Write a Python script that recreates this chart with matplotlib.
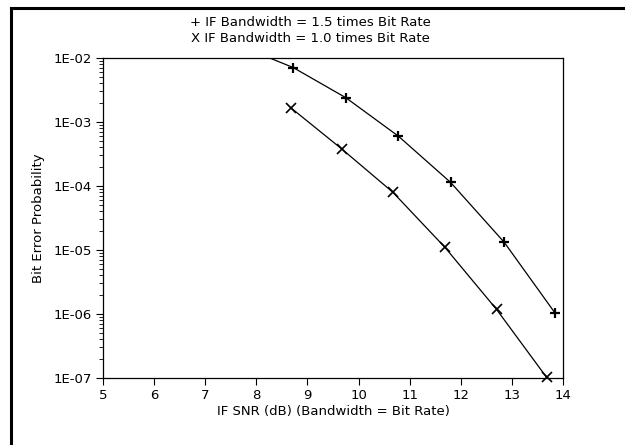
import matplotlib
matplotlib.use("Agg")
import matplotlib.pyplot as plt
from matplotlib.lines import Line2D
from matplotlib.ticker import LogLocator, FixedLocator

# IF bandwidth = 1.5 x bit rate (plus markers); first point lies above the plot
snr_15 = [7.72, 8.72, 9.75, 10.78, 11.80, 12.85, 13.85]
ber_15 = [1.5e-2, 7.1e-3, 2.4e-3, 6.0e-4, 1.14e-4, 1.32e-5, 1.02e-6]

# IF bandwidth = 1.0 x bit rate (x markers)
snr_10 = [8.67, 9.67, 10.67, 11.69, 12.70, 13.68]
ber_10 = [1.68e-3, 3.8e-4, 8.0e-5, 1.1e-5, 1.18e-6, 1.02e-7]

xticks = [5, 6, 7, 8, 9, 10, 11, 12, 13, 14]
yticks = [1e-2, 1e-3, 1e-4, 1e-5, 1e-6, 1e-7]
ytick_labels = ["1E-02", "1E-03", "1E-04", "1E-05", "1E-06", "1E-07"]

plt.rcParams["font.family"] = ["DejaVu Sans"]
plt.rcParams["font.size"] = 9.5

fig = plt.figure(figsize=(6.25, 4.45), dpi=100)
ax = fig.add_axes([103/625, 1 - 378/445, (563-103)/625, (378-58)/445])

ax.plot(snr_15, ber_15, color="black", lw=0.9, marker="+", ms=7, mew=1.6)
# x series sits right on the bottom axis, so don't clip its markers
ax.plot(snr_10, ber_10, color="black", lw=0.9, marker="x", ms=7.5, mew=1.2, clip_on=False)

ax.set_yscale("log")
ax.set_xlim(5, 14)
ax.set_ylim(1e-7, 1e-2)
ax.xaxis.set_major_locator(FixedLocator(xticks))
ax.set_xticklabels([str(t) for t in xticks])
ax.set_yticks(yticks)
ax.set_yticklabels(ytick_labels)
ax.yaxis.set_minor_locator(LogLocator(base=10, subs=range(2, 10)))
ax.yaxis.set_minor_formatter(plt.NullFormatter())
ax.tick_params(axis="both", which="major", direction="out", length=5, width=0.8, pad=3)
ax.tick_params(axis="y", which="minor", direction="out", length=3, width=0.6)
for s in ax.spines.values():
    s.set_linewidth(0.9)

ax.set_xlabel("IF SNR (dB) (Bandwidth = Bit Rate)", labelpad=2)
ax.set_ylabel("Bit Error Probability", labelpad=6)

fig.text(310/625, 1 - 23/445, "+ IF Bandwidth = 1.5 times Bit Rate", ha="center", va="center")
fig.text(310/625, 1 - 39/445, "X IF Bandwidth = 1.0 times Bit Rate", ha="center", va="center")

# outer frame (cut off at right and bottom)
fig.add_artist(Line2D([10.5/625, 10.5/625], [0, 1 - 7.5/445], color="black", lw=2.2,
                      solid_capstyle="projecting", transform=fig.transFigure))
fig.add_artist(Line2D([10.5/625, 1], [1 - 7.5/445, 1 - 7.5/445], color="black", lw=2.2,
                      solid_capstyle="projecting", transform=fig.transFigure))

fig.savefig("out.png", dpi=100)
